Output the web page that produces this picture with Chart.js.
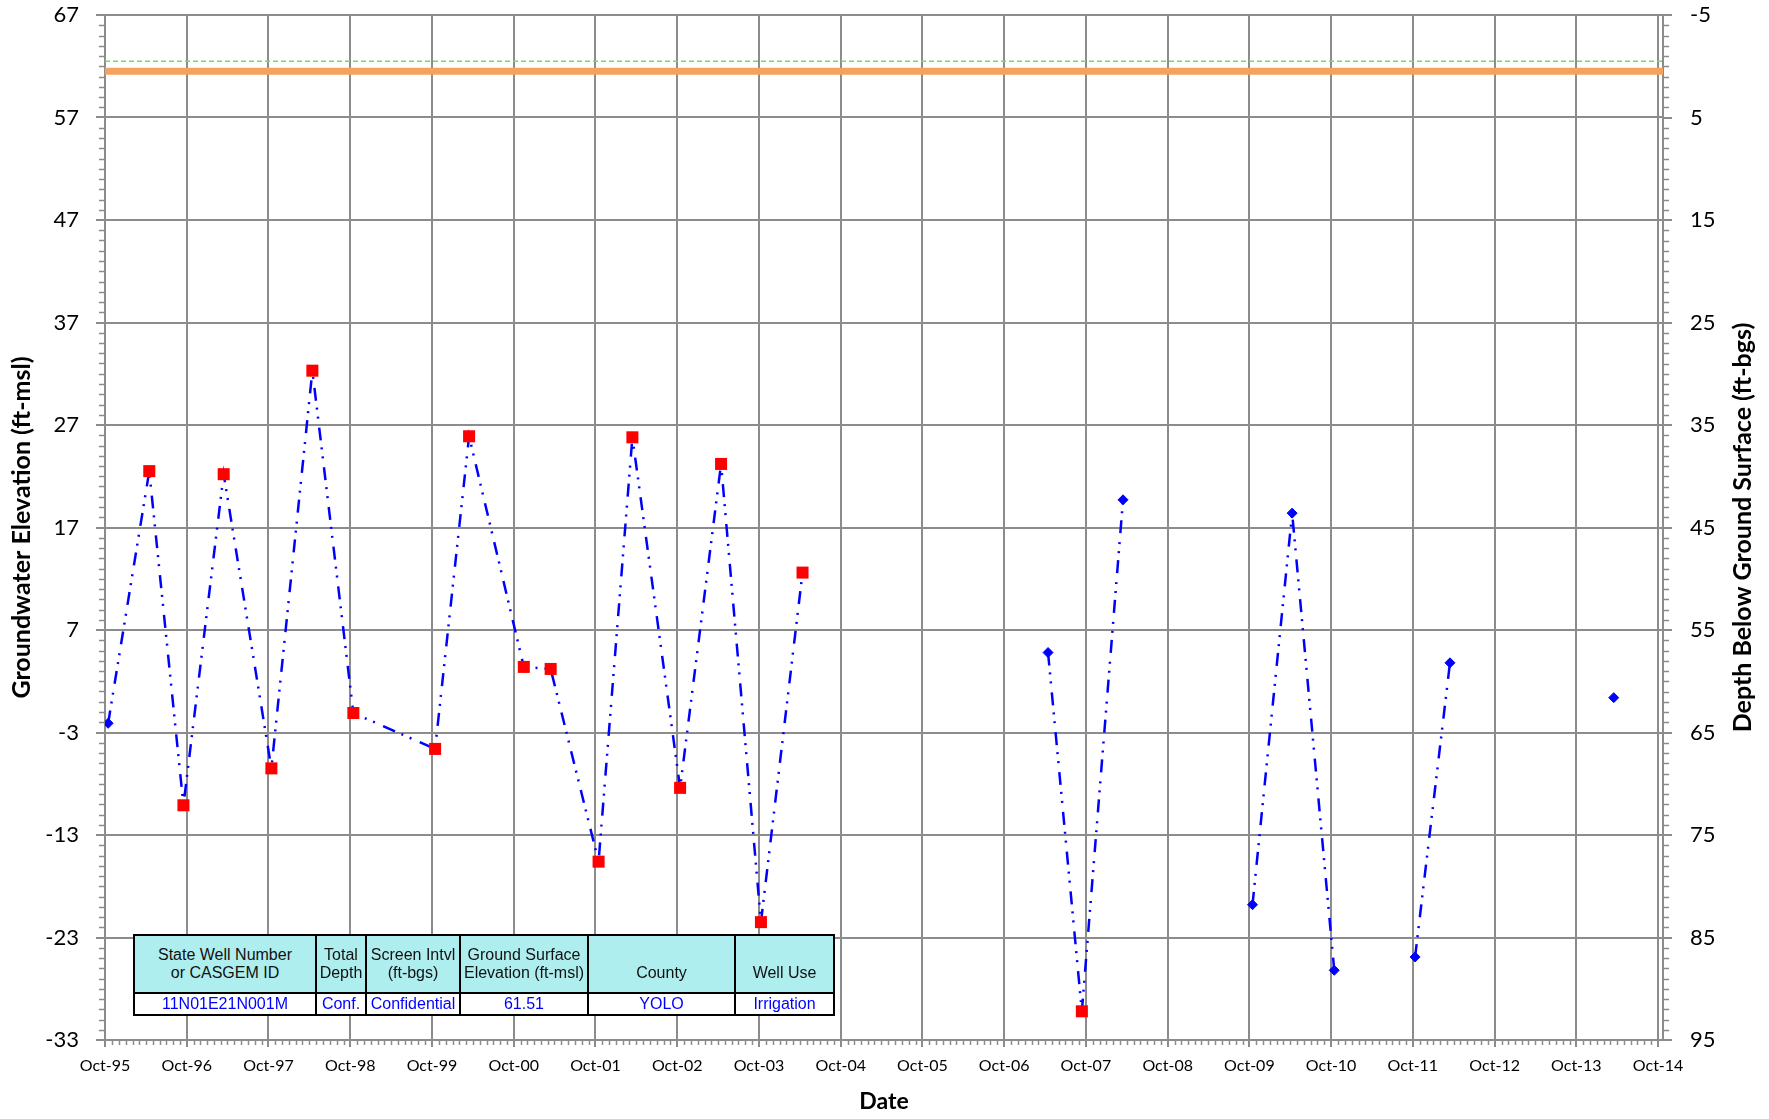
<!DOCTYPE html>
<html>
<head>
<meta charset="utf-8">
<script src="https://cdn.jsdelivr.net/npm/chart.js@4.4.0/dist/chart.umd.min.js"></script>
<style>
    body { margin: 0; background: #fff; }
    #wrap { position: relative; width: 1769px; height: 1119px; }
    #info { position: absolute; left: 133px; top: 934px; border-collapse: collapse; table-layout: fixed;
            font-family: "Liberation Sans", Arial, sans-serif; font-size: 16px; }
    #info td { border: 2px solid #000; text-align: center; padding: 0; line-height: 18px; white-space: nowrap; overflow: hidden; }
    #info tr.head td { background: #afeeee; height: 46px; vertical-align: bottom; padding-bottom: 10px; color: #111; }
    #info tr.vals td { background: #fff; color: #0000ff; height: 20px; }
</style>
</head>
<body>
<div id="wrap">
    <canvas id="chart" width="1769" height="1119"></canvas>
    <table id="info">
        <colgroup>
            <col style="width:182px"><col style="width:50px"><col style="width:94px">
            <col style="width:128px"><col style="width:147px"><col style="width:99px">
        </colgroup>
        <tr class="head">
            <td>State Well Number<br>or CASGEM ID</td>
            <td>Total<br>Depth</td>
            <td>Screen Intvl<br>(ft-bgs)</td>
            <td>Ground Surface<br>Elevation (ft-msl)</td>
            <td>County</td>
            <td>Well Use</td>
        </tr>
        <tr class="vals">
            <td>11N01E21N001M</td>
            <td>Conf.</td>
            <td>Confidential</td>
            <td>61.51</td>
            <td>YOLO</td>
            <td>Irrigation</td>
        </tr>
    </table>
</div>
<script>
// dati delle misure (null = nessuna misura, interrompe la linea)
var sampleDates = ['1995-10-15', '1996-04-16', '1996-09-16', '1997-03-15', '1997-10-14', '1998-04-15',
    '1998-10-15', '1999-10-15', '2000-03-15', '2000-11-15', '2001-03-15', '2001-10-15', '2002-03-15',
    '2002-10-14', '2003-04-15', '2003-10-10', '2004-04-13', '2005-10-01', '2007-04-15', '2007-09-13',
    '2008-03-15', '2009-01-01', '2009-10-15', '2010-04-10', '2010-10-15', '2011-04-01', '2011-10-11',
    '2012-03-15', '2013-01-01', '2014-03-17'];
var elevations = [-2.1, 22.5, -10.1, 22.2, -6.5, 32.3, -1.1, -4.6, 25.9, 3.4, 3.2, -15.6, 25.8,
    -8.4, 23.2, -21.5, 12.6, null, 4.8, -30.2, 19.7, null, -19.8, 18.4, -26.2, null, -24.9,
    3.8, null, 0.4];
var questionable = [0, 1, 1, 1, 1, 1, 1, 1, 1, 1, 1, 1, 1, 1, 1, 1, 1, 0, 0, 1, 0, 0, 0, 0, 0, 0, 0, 0, 0, 0];

var groundSurface = 61.51;
var referencePoint = 62.5;

var xTickLabels = ['Oct-95', 'Oct-96', 'Oct-97', 'Oct-98', 'Oct-99', 'Oct-00', 'Oct-01', 'Oct-02', 'Oct-03',
    'Oct-04', 'Oct-05', 'Oct-06', 'Oct-07', 'Oct-08', 'Oct-09', 'Oct-10', 'Oct-11', 'Oct-12', 'Oct-13', 'Oct-14'];
var xStart = '1995-10-01';
var xEnd = '2014-10-23';
var elevMin = -33, elevMax = 67;
var depthMin = -5, depthMax = 95;

var gridColor = '#8c8c8c';

function toYear(str) { // data 'YYYY-MM-DD' -> anno decimale
    var p = str.split('-');
    var y = +p[0];
    var start = Date.UTC(y, 0, 1), end = Date.UTC(y + 1, 0, 1);
    return y + (Date.UTC(y, +p[1] - 1, +p[2]) - start) / (end - start);
}

function labelToYear(label) { // 'Oct-95' -> anno decimale del 1 ottobre
    var yy = +label.split('-')[1];
    var y = yy < 50 ? 2000 + yy : 1900 + yy;
    return toYear(y + '-10-01');
}

var xMin = toYear(xStart), xMax = toYear(xEnd);

var allPoints = [];
var flagPoints = [];
for (var i = 0; i < sampleDates.length; i++) {
    allPoints.push({ x: toYear(sampleDates[i]), y: elevations[i] });
    if (questionable[i]) {
        flagPoints.push({ x: toYear(sampleDates[i]), y: elevations[i] });
    }
}

var minorTicks = { // tacche secondarie sugli assi
    id: 'minorTicks',
    afterDraw: function (chart) {
        var ctx = chart.ctx;
        var x = chart.scales.x, y = chart.scales.y, y2 = chart.scales.y2;
        ctx.save();
        ctx.strokeStyle = gridColor;
        ctx.lineWidth = 1.5;
        ctx.beginPath();
        for (var v = elevMin; v <= elevMax; v++) {
            if ((v - elevMin) % 10 === 0) continue;
            var py = Math.round(y.getPixelForValue(v)) + 0.5;
            ctx.moveTo(y.right - 6, py);
            ctx.lineTo(y.right, py);
        }
        for (var d = depthMin; d <= depthMax; d++) {
            if ((d - depthMin) % 10 === 0) continue;
            var py2 = Math.round(y2.getPixelForValue(d)) + 0.5;
            ctx.moveTo(y2.left, py2);
            ctx.lineTo(y2.left + 6, py2);
        }
        for (var yr = 1995; yr <= 2014; yr++) {
            for (var m = 1; m <= 12; m++) {
                var mv = toYear(yr + '-' + m + '-01');
                if (mv < xMin || mv > xMax || m === 10) continue;
                var px = Math.round(x.getPixelForValue(mv)) + 0.5;
                ctx.moveTo(px, x.top);
                ctx.lineTo(px, x.top + 5);
            }
        }
        ctx.stroke();

        // titolo asse destro, letto dal basso verso l'alto
        ctx.fillStyle = '#000';
        ctx.font = 'bold 25px Lato';
        ctx.textAlign = 'center';
        ctx.textBaseline = 'middle';
        ctx.translate(1743, (chart.chartArea.top + chart.chartArea.bottom) / 2);
        ctx.rotate(-Math.PI / 2);
        ctx.fillText('Depth Below Ground Surface (ft-bgs)', 0, 0);
        ctx.restore();
    }
};

var ctx = document.getElementById('chart');
var chart = new Chart(ctx, {
    type: 'line',
    data: {
        datasets: [{
            label: 'Questionable',
            data: flagPoints,
            showLine: false,
            pointStyle: 'rect',
            pointRadius: 8.5,
            pointBackgroundColor: '#ff0000',
            pointBorderColor: '#ff0000',
            pointBorderWidth: 0
        }, {
            label: 'Groundwater Elevation',
            data: allPoints,
            borderColor: '#0000ff',
            borderWidth: 2.5,
            borderDash: [13, 7, 2, 7, 2, 9],
            spanGaps: false,
            tension: 0,
            pointStyle: 'rectRot',
            pointRadius: 5,
            pointBackgroundColor: '#0000ff',
            pointBorderColor: '#0000ff',
            pointBorderWidth: 1
        }, {
            label: 'Reference Point',
            data: [{ x: xMin, y: referencePoint }, { x: xMax, y: referencePoint }],
            borderColor: '#55ee55',
            borderWidth: 1.5,
            borderDash: [5, 3],
            pointRadius: 0
        }, {
            label: 'Ground Surface',
            data: [{ x: xMin, y: groundSurface }, { x: xMax, y: groundSurface }],
            borderColor: '#f4a25e',
            borderWidth: 7,
            borderCapStyle: 'round',
            pointRadius: 0
        }]
    },
    options: {
        responsive: false,
        animation: false,
        layout: { padding: { top: 0, left: 0, right: 0, bottom: 0 } },
        plugins: { legend: { display: false }, tooltip: { enabled: false } },
        scales: {
            x: {
                type: 'linear',
                min: xMin,
                max: xMax,
                afterFit: function (scale) { scale.height = 79; },
                afterBuildTicks: function (scale) {
                    scale.ticks = xTickLabels.map(function (l) { return { value: labelToYear(l) }; });
                },
                ticks: {
                    autoSkip: false,
                    maxRotation: 0,
                    padding: 9,
                    color: '#000',
                    font: { family: 'Lato', size: 16 },
                    callback: function (value, index) { return xTickLabels[index]; }
                },
                grid: { color: gridColor, lineWidth: 2, tickLength: 7, tickColor: gridColor },
                border: { color: gridColor, width: 2 },
                title: {
                    display: true,
                    text: 'Date',
                    color: '#000',
                    font: { family: 'Lato', size: 23, weight: 'bold' },
                    padding: { top: 0, bottom: 4 }
                }
            },
            y: {
                position: 'left',
                min: elevMin,
                max: elevMax,
                afterFit: function (scale) {
                    scale.width = 105;
                    scale.paddingTop = 15; // solo mezza etichetta sopra l'area del grafico
                },
                ticks: {
                    stepSize: 10,
                    padding: 17,
                    color: '#000',
                    font: { family: 'Lato', size: 22 }
                },
                grid: { color: gridColor, lineWidth: 2, tickLength: 9, tickColor: gridColor },
                border: { color: gridColor, width: 2 },
                title: {
                    display: true,
                    text: 'Groundwater Elevation (ft-msl)',
                    color: '#000',
                    font: { family: 'Lato', size: 25, weight: 'bold' },
                    padding: { top: 7, bottom: 0 }
                }
            },
            y2: {
                position: 'right',
                min: depthMin,
                max: depthMax,
                reverse: true,
                afterFit: function (scale) {
                    scale.width = 106;
                    scale.paddingTop = 15;
                },
                ticks: {
                    stepSize: 10,
                    padding: 18,
                    color: '#000',
                    font: { family: 'Lato', size: 22 }
                },
                grid: { drawOnChartArea: false, lineWidth: 2, tickLength: 9, color: gridColor },
                border: { color: gridColor, width: 2 }
            }
        }
    },
    plugins: [minorTicks]
});
</script>
</body>
</html>
